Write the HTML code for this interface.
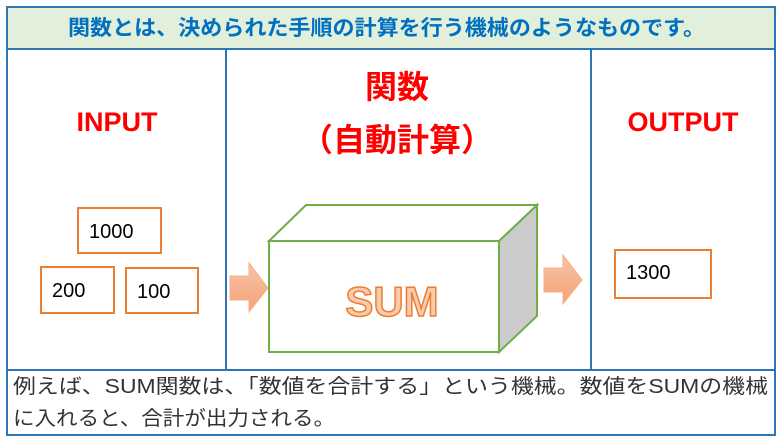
<!DOCTYPE html>
<html><head><meta charset="utf-8"><style>
body{margin:0;background:#fff;width:784px;height:443px;overflow:hidden}
svg text{font-family:"Liberation Sans","Noto Sans CJK JP",sans-serif}
</style></head><body>
<svg width="784" height="443" xmlns="http://www.w3.org/2000/svg">
<rect x="7" y="7" width="768" height="42" fill="#e2efda" stroke="#2e75b6" stroke-width="2"/>
<text x="68" y="35" textLength="637" lengthAdjust="spacingAndGlyphs" font-size="21" font-weight="bold" fill="#0070c0">関数とは、決められた手順の計算を行う機械のようなものです。</text>
<rect x="7" y="49" width="768" height="386" fill="none" stroke="#2e75b6" stroke-width="2"/>
<line x1="226" y1="49" x2="226" y2="370" stroke="#2e75b6" stroke-width="2"/>
<line x1="591" y1="49" x2="591" y2="370" stroke="#2e75b6" stroke-width="2"/>
<line x1="7" y1="370" x2="775" y2="370" stroke="#2e75b6" stroke-width="2"/>
<text x="117" y="131" text-anchor="middle" font-size="27" font-weight="bold" fill="#ff0000">INPUT</text>
<text x="683" y="131" text-anchor="middle" font-size="27" font-weight="bold" fill="#ff0000">OUTPUT</text>
<text x="397" y="98" text-anchor="middle" font-size="32" font-weight="bold" fill="#ff0000">関数</text>
<text x="397" y="151" text-anchor="middle" font-size="32" font-weight="bold" fill="#ff0000">（自動計算）</text>
<g fill="#fff" stroke="#ed7d31" stroke-width="2">
<rect x="78" y="208" width="83" height="45"/>
<rect x="41" y="267" width="73" height="46"/>
<rect x="126" y="268" width="72" height="45"/>
<rect x="615" y="250" width="96" height="48"/>
</g>
<g font-size="20" fill="#000">
<text x="89" y="238">1000</text>
<text x="52" y="297">200</text>
<text x="137" y="298">100</text>
<text x="626" y="279">1300</text>
</g>
<defs><linearGradient id="g" x1="0" y1="0" x2="0" y2="1"><stop offset="0" stop-color="#f8c4a8"/><stop offset="1" stop-color="#f4a278"/></linearGradient></defs>
<polygon points="230,276 249,276 249,263 268,288 249,312 249,300 230,300" fill="url(#g)" stroke="#f4b183" stroke-width="1"/>
<polygon points="544,268 563,268 563,255 582,280 563,304 563,292 544,292" fill="url(#g)" stroke="#f4b183" stroke-width="1"/>
<polygon points="499,241 537,205 537,316 499,352" fill="#cccccc" stroke="#70ad47" stroke-width="2"/>
<polygon points="269,241 306,205 537,205 499,241" fill="#fff" stroke="#70ad47" stroke-width="2"/>
<rect x="269" y="241" width="230" height="111" fill="#fff" stroke="#70ad47" stroke-width="2"/>
<text x="392" y="316" text-anchor="middle" font-size="42" font-weight="bold" fill="#f8cbad" stroke="#ed7d31" stroke-width="1.5">SUM</text>
<g font-size="20" fill="#333">
<text x="13" y="393" textLength="755" lengthAdjust="spacingAndGlyphs">例えば、SUM関数は、「数値を合計する」という機械。数値をSUMの機械</text>
<text x="13" y="425" textLength="322" lengthAdjust="spacingAndGlyphs">に入れると、合計が出力される。</text>
</g>
</svg>
</body></html>
